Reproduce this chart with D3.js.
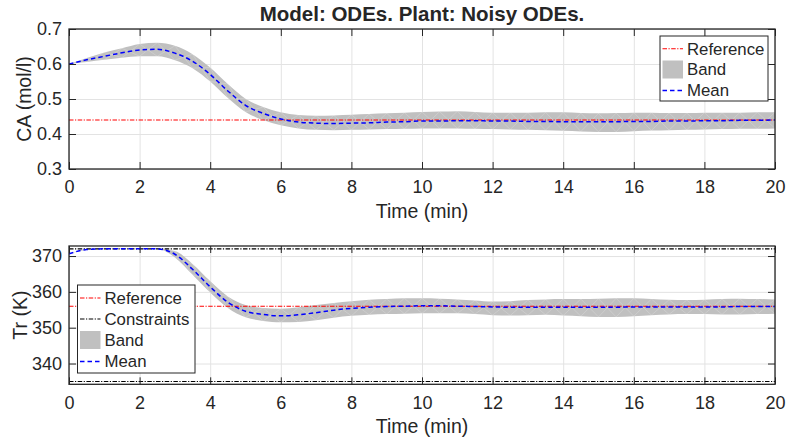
<!DOCTYPE html>
<html>
<head>
<meta charset="utf-8">
<script src="https://cdn.jsdelivr.net/npm/d3@7"></script>
<style>
  html, body { margin: 0; padding: 0; background: #fff; }
  svg { display: block; }
  text { font-family: "Liberation Sans", Arial, Helvetica, sans-serif; fill: #262626; }
</style>
</head>
<body>
<svg id="chart" width="787" height="447"></svg>
<script>
// ---- data -------------------------------------------------------------
const time = [0,0.5,1,1.5,2,2.5,3,3.5,4,4.5,5,5.5,6,6.5,7,7.5,8,8.5,9,9.5,10,
              10.5,11,11.5,12,12.5,13,13.5,14,14.5,15,15.5,16,16.5,17,17.5,18,18.5,19,19.5,20];

// Concentration CA (mol/l)
const caMean  = [0.600,0.612,0.622,0.632,0.640,0.642,0.631,0.608,0.570,0.523,0.482,0.459,0.443,0.434,0.431,0.430,0.431,0.432,0.434,0.435,0.437,
                 0.437,0.438,0.438,0.437,0.437,0.436,0.436,0.435,0.435,0.435,0.435,0.436,0.436,0.437,0.437,0.438,0.438,0.439,0.439,0.440];
const caUpper = [0.600,0.617,0.633,0.645,0.657,0.661,0.652,0.628,0.590,0.543,0.501,0.477,0.462,0.454,0.452,0.453,0.455,0.457,0.459,0.461,0.463,
                 0.464,0.465,0.463,0.461,0.461,0.461,0.462,0.462,0.460,0.459,0.460,0.461,0.461,0.460,0.460,0.461,0.461,0.461,0.462,0.462];
const caLower = [0.600,0.606,0.612,0.618,0.622,0.622,0.611,0.588,0.550,0.503,0.463,0.440,0.425,0.416,0.412,0.411,0.412,0.413,0.414,0.415,0.416,
                 0.416,0.416,0.415,0.414,0.413,0.412,0.411,0.409,0.407,0.406,0.406,0.408,0.410,0.411,0.412,0.413,0.414,0.415,0.415,0.416];
const caRef = 0.44;

// Reactor temperature Tr (K)
const trMean  = [370.6,371.8,372.0,372.0,372.0,372.0,370.5,366.3,361.4,357.1,354.6,353.7,353.3,353.6,354.2,354.9,355.4,355.7,355.9,356.0,356.1,
                 356.1,356.0,355.9,355.8,355.7,355.7,355.7,355.7,355.7,355.7,355.7,355.8,355.8,355.8,355.8,355.8,355.8,355.9,355.9,355.9];
const trUpper = [370.6,371.9,372.05,372.05,372.05,372.05,371.4,367.8,363.0,358.7,356.3,355.5,355.3,355.7,356.3,356.9,357.4,357.8,358.0,358.2,358.2,
                 358.1,357.9,357.6,357.3,357.4,357.7,357.9,358.0,358.0,358.1,358.2,358.2,358.0,357.8,357.7,357.8,358.0,358.1,358.0,357.9];
const trLower = [370.6,371.7,371.95,371.95,371.95,371.95,369.6,364.8,359.8,355.5,352.9,351.9,351.5,351.6,352.1,352.8,353.3,353.6,353.8,353.9,354.0,
                 354.0,354.0,353.8,353.5,353.4,353.5,353.6,353.4,353.2,353.0,353.0,353.2,353.5,353.7,353.8,353.8,353.7,353.7,353.8,353.9];
const trRef = 356;
const trConstraints = [335, 372];

const xTicks  = [0,2,4,6,8,10,12,14,16,18,20];
const caTicks = [0.3,0.4,0.5,0.6,0.7];
const trTicks = [340,350,360,370];

// ---- styling ----------------------------------------------------------
const FONT = '"Liberation Sans", Arial, Helvetica, sans-serif';
const AX = "#262626", GRID = "#e3e3e3", BAND = "#c0c0c0";
const DASH_MEAN = "4.5,3", DASH_DOT = "4.5,1.5,1.2,1.5";

const svg = d3.select("#chart");

function panel(opts) {
  const {top, bottom, left, right, yDomain, yTicks} = opts;
  const x = d3.scaleLinear().domain([0, 20]).range([left, right]);
  const y = d3.scaleLinear().domain(yDomain).range([bottom, top]);
  const g = svg.append("g");

  // grid
  g.append("g").attr("transform", `translate(0,${bottom})`)
    .call(d3.axisBottom(x).tickValues(xTicks).tickSize(-(bottom - top)).tickFormat(""))
    .call(s => { s.select(".domain").remove(); s.selectAll("line").attr("stroke", GRID).attr("stroke-width", 1); });
  g.append("g").attr("transform", `translate(${left},0)`)
    .call(d3.axisLeft(y).tickValues(yTicks).tickSize(-(right - left)).tickFormat(""))
    .call(s => { s.select(".domain").remove(); s.selectAll("line").attr("stroke", GRID).attr("stroke-width", 1); });

  const clip = "clip" + Math.round(top);
  svg.append("clipPath").attr("id", clip)
    .append("rect").attr("x", left).attr("y", top).attr("width", right - left).attr("height", bottom - top);
  const plot = g.append("g").attr("clip-path", `url(#${clip})`);

  return {x, y, g, plot, opts};
}

function drawBand(p, upper, lower) {
  const {x, y, plot} = p;
  const idx = d3.range(time.length);
  const area = d3.area().curve(d3.curveMonotoneX)
    .x(i => x(time[i])).y0(i => y(lower[i])).y1(i => y(upper[i]));
  plot.append("path").datum(idx).attr("d", area).attr("fill", BAND);
  // faint mesh edges of the patch
  const seg = plot.append("g").attr("stroke", "#ffffff").attr("stroke-opacity", 0.28).attr("stroke-width", 0.7);
  idx.slice(0, -1).forEach(i => {
    seg.append("line").attr("x1", x(time[i])).attr("y1", y(lower[i]))
      .attr("x2", x(time[i + 1])).attr("y2", y(upper[i + 1]));
    seg.append("line").attr("x1", x(time[i])).attr("y1", y(upper[i]))
      .attr("x2", x(time[i + 1])).attr("y2", y(lower[i + 1]));
  });
}

function drawHLine(p, v, color, dash) {
  const {x, y, plot} = p;
  plot.append("line").attr("x1", x(0)).attr("x2", x(20)).attr("y1", y(v)).attr("y2", y(v))
    .attr("stroke", color).attr("stroke-width", 1.1).attr("stroke-dasharray", dash);
}

function drawMean(p, values) {
  const {x, y, plot} = p;
  const line = d3.line().curve(d3.curveMonotoneX).x((d, i) => x(time[i])).y(d => y(d));
  plot.append("path").datum(values).attr("d", line).attr("fill", "none")
    .attr("stroke", "#0000ff").attr("stroke-width", 1.5).attr("stroke-dasharray", DASH_MEAN);
}

function drawAxes(p) {
  const {x, y, g, opts} = p;
  const {top, bottom, left, right, yTicks, yFmt, yLabel, yLabelX} = opts;
  const style = s => {
    s.select(".domain").remove();
    s.selectAll("line").attr("stroke", AX).attr("stroke-width", 1);
    s.selectAll("text").attr("font-family", FONT).attr("font-size", 18).attr("fill", AX);
  };
  g.append("g").attr("transform", `translate(0,${bottom})`)
    .call(d3.axisBottom(x).tickValues(xTicks).tickSizeInner(-7).tickSizeOuter(0).tickPadding(11.5).tickFormat(d3.format("d")))
    .call(style);
  g.append("g").attr("transform", `translate(0,${top})`)
    .call(d3.axisTop(x).tickValues(xTicks).tickSizeInner(-7).tickSizeOuter(0).tickFormat(""))
    .call(style);
  g.append("g").attr("transform", `translate(${left},0)`)
    .call(d3.axisLeft(y).tickValues(yTicks).tickSizeInner(-7).tickSizeOuter(0).tickPadding(7).tickFormat(yFmt))
    .call(style);
  g.append("g").attr("transform", `translate(${right},0)`)
    .call(d3.axisRight(y).tickValues(yTicks).tickSizeInner(-7).tickSizeOuter(0).tickFormat(""))
    .call(style);
  g.append("rect").attr("x", left).attr("y", top).attr("width", right - left).attr("height", bottom - top)
    .attr("fill", "none").attr("stroke", AX).attr("stroke-width", 1.3);

  g.append("text").attr("x", (left + right) / 2).attr("y", bottom + 49)
    .attr("text-anchor", "middle").attr("font-size", 19.5).text("Time (min)");
  g.append("text").attr("transform", `translate(${yLabelX},${(top + bottom) / 2}) rotate(-90)`)
    .attr("text-anchor", "middle").attr("font-size", 19.5).text(yLabel);
}

function legend(x0, y0, w, h, items) {
  const g = svg.append("g");
  g.append("rect").attr("x", x0).attr("y", y0).attr("width", w).attr("height", h)
    .attr("fill", "#fff").attr("stroke", AX).attr("stroke-width", 1);
  items.forEach(it => {
    const sx = x0 + 2.5, ex = x0 + 23;
    if (it.kind === "line") {
      g.append("line").attr("x1", sx).attr("x2", ex).attr("y1", it.y).attr("y2", it.y)
        .attr("stroke", it.color).attr("stroke-width", it.width).attr("stroke-dasharray", it.dash);
    } else {
      g.append("rect").attr("x", sx).attr("y", it.y - 9).attr("width", ex - sx).attr("height", 18).attr("fill", BAND);
    }
    g.append("text").attr("x", x0 + 27).attr("y", it.y).attr("dy", "0.35em")
      .attr("font-size", 16.8).attr("fill", "#000").text(it.label);
  });
}

// ---- top panel: CA ----------------------------------------------------
const p1 = panel({top: 29, bottom: 169, left: 69, right: 775, yDomain: [0.3, 0.7],
                  yTicks: caTicks, yFmt: d3.format(".1f"), yLabel: "CA (mol/l)", yLabelX: 31});
drawBand(p1, caUpper, caLower);
drawHLine(p1, caRef, "#ff0000", DASH_DOT);
drawMean(p1, caMean);
drawAxes(p1);

// ---- bottom panel: Tr -------------------------------------------------
const p2 = panel({top: 246, bottom: 384.3, left: 69, right: 775, yDomain: [334.2, 372.8],
                  yTicks: trTicks, yFmt: d3.format("d"), yLabel: "Tr (K)", yLabelX: 27});
drawBand(p2, trUpper, trLower);
drawHLine(p2, trRef, "#ff0000", DASH_DOT);
trConstraints.forEach(c => drawHLine(p2, c, "#000000", DASH_DOT));
drawMean(p2, trMean);
drawAxes(p2);

// ---- title & legends --------------------------------------------------
svg.append("text").attr("x", 422).attr("y", 20.5).attr("text-anchor", "middle")
  .attr("font-size", 20.5).attr("font-weight", "bold").attr("fill", "#000")
  .text("Model: ODEs. Plant: Noisy ODEs.");

legend(660, 36, 108, 65, [
  {kind: "line", label: "Reference", color: "#ff0000", dash: DASH_DOT, width: 1.1, y: 48.7},
  {kind: "band", label: "Band", y: 69.5},
  {kind: "line", label: "Mean", color: "#0000ff", dash: DASH_MEAN, width: 1.5, y: 90.5}
]);

legend(77.5, 285, 117.5, 88, [
  {kind: "line", label: "Reference", color: "#ff0000", dash: DASH_DOT, width: 1.1, y: 298},
  {kind: "line", label: "Constraints", color: "#000000", dash: DASH_DOT, width: 1.1, y: 319},
  {kind: "band", label: "Band", y: 340},
  {kind: "line", label: "Mean", color: "#0000ff", dash: DASH_MEAN, width: 1.5, y: 361.5}
]);
</script>
</body>
</html>
